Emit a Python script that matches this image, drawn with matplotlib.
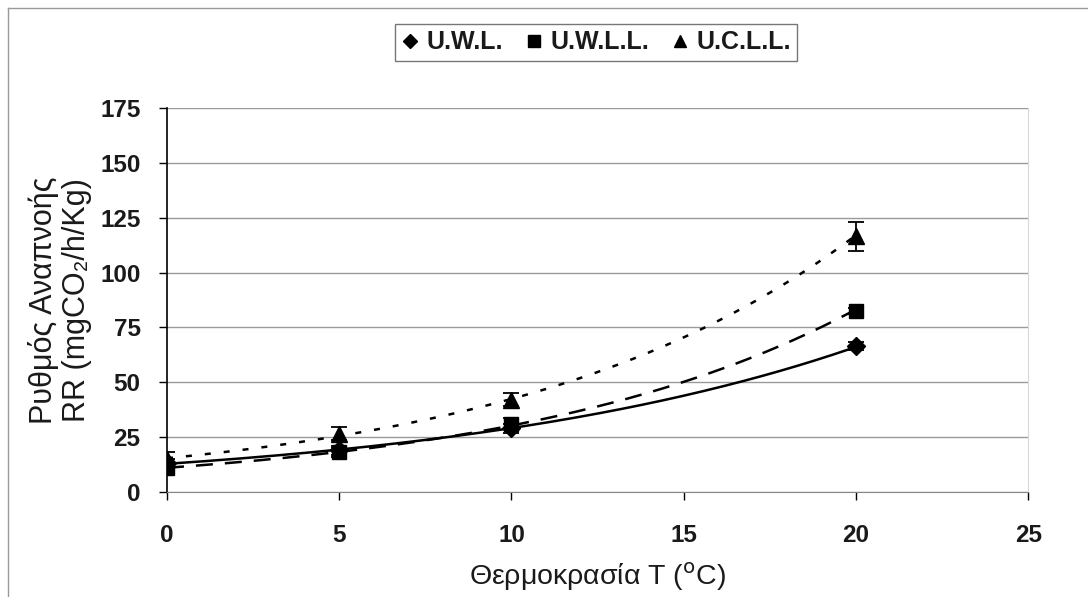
import numpy as np
import matplotlib.pyplot as plt
from matplotlib.lines import Line2D

plt.rcParams['font.family'] = ['Liberation Sans', 'DejaVu Sans']

temp = np.array([0, 5, 10, 20])

# respiration rate (mean) and error per sample
uwl = np.array([13, 19, 29, 66.5])
uwl_err = np.array([2, 2, 2, 2])
uwll = np.array([11, 18, 31, 82.5])
uwll_err = np.array([2, 2, 2.5, 1.5])
ucll = np.array([15, 26.5, 42, 116.5])
ucll_err = np.array([3, 3, 3, 6.5])

labels = ["U.W.L.", "U.W.L.L.", "U.C.L.L."]
markers = ["D", "s", "^"]
trend_styles = ["-", (0, (6.8, 4.8)), (0, (2.4, 5.2))]

fig = plt.figure(figsize=(10.88, 5.97), dpi=100)
ax = fig.add_axes([0.1535, 0.176, 0.7915, 0.643])

xs = np.linspace(0, 20, 200)
series = [(uwl, uwl_err), (uwll, uwll_err), (ucll, ucll_err)]
handles = []
for (vals, err), lab, mk, ls in zip(series, labels, markers, trend_styles):
    ms = {"D": 9, "s": 10, "^": 11}[mk]
    ax.errorbar(temp, vals, yerr=err, fmt=mk, color='black', ms=ms,
                capsize=5.5, elinewidth=1.3, capthick=1.3, zorder=4)
    # exponential trendline (as in the spreadsheet chart)
    b, a = np.polyfit(temp, np.log(vals), 1)
    ax.plot(xs, np.exp(a) * np.exp(b * xs), color='black', lw=1.8,
            linestyle=ls, zorder=3)
    handles.append(Line2D([], [], marker=mk, color='black', ls='none',
                          ms={"D": 7, "s": 8.5, "^": 9}[mk], label=lab))

ax.set_xlim(0, 25)
ax.set_ylim(0, 175)
ax.set_xticks(range(0, 26, 5))
ax.set_yticks(range(0, 176, 25))
ax.yaxis.grid(True, color='#9a9a9a', lw=1)
ax.set_axisbelow(True)

ax.spines['top'].set_visible(False)
ax.spines['right'].set_color('#d8d8d8')
ax.spines['left'].set_linewidth(1.2)
ax.spines['bottom'].set_color('#888888')
ax.tick_params(axis='both', labelsize=17.5, length=6, width=1, direction='out')
ax.tick_params(axis='y', pad=13)
ax.tick_params(axis='x', pad=17)
for t in ax.get_xticklabels() + ax.get_yticklabels():
    t.set_fontweight('bold')
    t.set_color('#1a1a1a')

ax.set_xlabel(r"Θερμοκρασία T ($^{\mathrm{o}}$C)", fontsize=20.5, labelpad=10,
              color='#1a1a1a')
ax.set_ylabel("Ρυθμός Αναπνοής\nRR (mgCO₂/h/Kg)", fontsize=22, labelpad=6,
              linespacing=1.12, color='#1a1a1a')

leg = fig.legend(handles=handles, loc='center', bbox_to_anchor=(0.548, 0.929),
                 ncol=3, frameon=True, fancybox=False, edgecolor='#555555',
                 prop={'weight': 'bold', 'size': 18}, handletextpad=0.3,
                 columnspacing=0.9, handlelength=0.7, borderpad=0.25,
                 borderaxespad=0)
leg.get_frame().set_linewidth(1)
for t in leg.get_texts():
    t.set_color('#1a1a1a')

# outer chart border
fig.add_artist(Line2D([0.007, 1.0], [0.987, 0.987], color='#999999', lw=1))
fig.add_artist(Line2D([0.007, 0.007], [0.0, 0.987], color='#999999', lw=1))

fig.savefig("out.png", dpi=100)
